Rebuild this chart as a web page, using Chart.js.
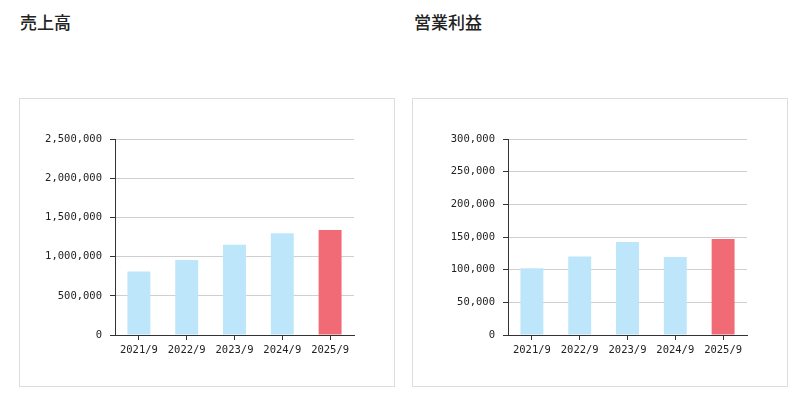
<!DOCTYPE html>
<html>
<head>
<meta charset="utf-8">
<script src="https://cdn.jsdelivr.net/npm/chart.js@4.4.1/dist/chart.umd.min.js"></script>
<style>
body { margin: 0; background: #fff; width: 808px; height: 394px; overflow: hidden; position: relative; font-family: "Noto Sans CJK JP", sans-serif; }
.ttl { position: absolute; top: 10px; margin: 0; font-size: 17px; font-weight: 500; color: #222; line-height: 24px; }
.box { position: absolute; top: 98px; width: 374px; height: 287px; border: 1px solid #ddd; }
.box canvas { position: absolute; left: 0; top: 0; }
</style>
</head>
<body>
<h3 class="ttl" style="left:20px">売上高</h3>
<h3 class="ttl" style="left:414px">営業利益</h3>
<div class="box" style="left:19px"><canvas id="salesChart" width="374" height="287"></canvas></div>
<div class="box" style="left:412px"><canvas id="profitChart" width="374" height="287"></canvas></div>
<script>
var years = ["2021/9", "2022/9", "2023/9", "2024/9", "2025/9"];
var sales = [810000, 958000, 1150000, 1298000, 1340000];
var profit = [102000, 120000, 142500, 119500, 147000];
var sales_max = 2500000;
var sales_step = 500000;
var profit_max = 300000;
var profit_step = 50000;
var bar_colors = ['#bde6fb', '#bde6fb', '#bde6fb', '#bde6fb', '#f16b77'];

function fmt(v) {
    return v.toLocaleString('en-US');
}

function draw_bars(id, vals, maxv, stepv) {
    var ctx = document.getElementById(id).getContext('2d');
    return new Chart(ctx, {
        type: 'bar',
        data: {
            labels: years,
            datasets: [{
                data: vals,
                backgroundColor: bar_colors,
                borderWidth: 0,
                barPercentage: 0.48,
                categoryPercentage: 1.0
            }]
        },
        options: {
            responsive: false,
            animation: false,
            events: [],
            layout: { padding: { left: 0, right: 40, top: 40, bottom: 0 } },
            plugins: { legend: { display: false }, tooltip: { enabled: false } },
            scales: {
                x: {
                    grid: { drawOnChartArea: false, tickLength: 5, tickColor: '#333', offset: false },
                    border: { color: '#333', width: 1 },
                    ticks: { color: '#222', padding: 4, maxRotation: 0, font: { family: 'DejaVu Sans Mono', size: 10.5 } },
                    afterFit: function(s) { s.height = 51; }
                },
                y: {
                    min: 0,
                    max: maxv,
                    grid: { color: '#cfcfcf', tickLength: 5, tickColor: '#333' },
                    border: { color: '#333', width: 1 },
                    ticks: { stepSize: stepv, color: '#222', padding: 8, font: { family: 'DejaVu Sans Mono', size: 10.5 },
                        callback: function(v) { return fmt(v); } },
                    afterFit: function(s) { s.width = 95; }
                }
            }
        }
    });
}

draw_bars("salesChart", sales, sales_max, sales_step);
draw_bars("profitChart", profit, profit_max, profit_step);
</script>
</body>
</html>
